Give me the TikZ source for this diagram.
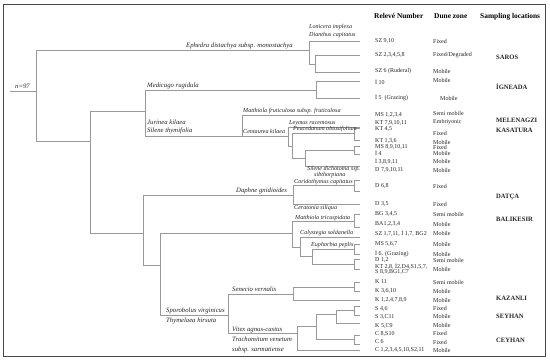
\documentclass[tikz,border=0pt]{standalone}
\usepackage{fontspec}
\setmainfont{Liberation Serif}
\newcommand{\leafpair}[2]{\draw[tr] (360,#1) -- (354,#1) -- (354,#2) -- (360,#2);}
\begin{document}
\begin{tikzpicture}[x=1pt,y=-1pt,
  tr/.style={draw=black!40,line width=0.6pt},
  sp/.style={font=\fontsize{6.7}{7}\selectfont\itshape,inner sep=0pt,anchor=base west,text=black!85},
  sps/.style={sp,font=\fontsize{6.1}{6.5}\selectfont\itshape},
  rl/.style={font=\fontsize{6}{6.5}\selectfont,inner sep=0pt,anchor=west,text=black!85},
  hd/.style={font=\fontsize{7.4}{8}\selectfont\bfseries,inner sep=0pt,anchor=west},
  loc/.style={font=\fontsize{6.6}{7}\selectfont\bfseries,inner sep=0pt,anchor=west,text=black!85}]
\useasboundingbox (0,0) rectangle (550,361);
\fill[white] (0,0) rectangle (550,361);
\draw[line width=1.7pt,black!72] (3.5,4.5) rectangle (545.5,356.5);

% ---- tree ----
\draw[tr] (10,91) -- (36,91);
\draw[tr] (36,141) -- (36,50) -- (309,50);
\draw[tr] (360,41) -- (309,41) -- (309,64) -- (315,64);
\draw[tr] (360,55) -- (315,55) -- (315,72) -- (360,72);
\draw[tr] (36,141) -- (90,141);
\draw[tr] (145,111) -- (90,111) -- (90,233) -- (143,233);
\draw[tr] (316,90) -- (145,90) -- (145,136) -- (288,136);
\draw[tr] (360,81) -- (316,81) -- (316,98) -- (360,98);
\draw[tr] (360,115) -- (242,115) -- (242,136);
\draw[tr] (360,127) -- (288,127) -- (288,146) -- (292,146);
\draw[tr] (354,133) -- (292,133) -- (292,158) -- (305,158);
\leafpair{128}{140}
\draw[tr] (354,150) -- (305,150) -- (305,166) -- (360,166);
\leafpair{146}{154}
\draw[tr] (293,195) -- (143,195) -- (143,265) -- (160,265);
\draw[tr] (354,185) -- (293,185) -- (293,204) -- (360,204);
\leafpair{180}{191}
\draw[tr] (292,233) -- (160,233) -- (160,315) -- (228,315);
\draw[tr] (354,221) -- (292,221) -- (292,247) -- (300,247);
\leafpair{214}{227}
\draw[tr] (360,237) -- (300,237) -- (300,256) -- (312,256);
\draw[tr] (354,249) -- (312,249) -- (312,264) -- (354,264);
\leafpair{244}{254}
\leafpair{259}{269}
\draw[tr] (293,294) -- (228,294) -- (228,333) -- (297,333);
\draw[tr] (354,287) -- (293,287) -- (293,300) -- (360,300);
\leafpair{282}{291}
\draw[tr] (316,326) -- (297,326) -- (297,350) -- (360,350);
\draw[tr] (336,314) -- (316,314) -- (316,339) -- (354,339);
\draw[tr] (354,310) -- (336,310) -- (336,323) -- (360,323);
\leafpair{306}{315}
\leafpair{335}{344}

% ---- species labels ----
\node[sp] (n97) at (15,88.5) {n=97};
\node[sp,anchor=base east] (eph) at (293,47.5) {Ephedra distachya subsp. monostachya};
\node[sps] (lon) at (309,29) {Lonicera implexa};
\node[sps] (dia) at (309,37) {Dianthus capitatus};
\node[sp] (med) at (147,88) {Medicago rugidula};
\node[sp] (jur) at (147,124.5) {Jurinea kilaea};
\node[sp] (sth) at (147,132.5) {Silene thymifolia};
\node[sps] (mfr) at (243,113) {Matthiola fruticulosa subsp. fruticulosa};
\node[sps] (cen) at (243,134) {Centaurea kilaea};
\node[sps] (ley) at (289,124.5) {Leymus racemosus};
\node[sps] (peu) at (293,131) {Peucedanum obtusifolium};
\node[sps] (sdi) at (307,171) {Silene dichotoma ssp.};
\node[sps] (sib) at (314,176.5) {sibthorpiana};
\node[sp] (dap) at (236,193) {Daphne gnidioides};
\node[sps] (cor) at (294,183.5) {Coridothymus capitatus};
\node[sps] (cer) at (294,210) {Ceratonia siliqua};
\node[sps] (mtr) at (295,219) {Matthiola tricuspidata};
\node[sps] (cal) at (300,235) {Calystegia soldanella};
\node[sps] (eup) at (311,247) {Euphorbia peplis};
\node[sp] (sen) at (232,291.5) {Senecio vernalis};
\node[sp] (spo) at (166,312.5) {Sporobolus virginicus};
\node[sp] (thy) at (166,322.5) {Thymelaea hirsuta};
\node[sp] (vit) at (232,331) {Vitex agnus-castus};
\node[sp] (tra) at (232,341) {Trachomitum venetum};
\node[sp] (sar) at (232,351) {subsp. sarmatiense};

% ---- headers ----
\node[hd] (h1) at (374,16) {Relevé Number};
\node[hd] (h2) at (434,16.5) {Dune zone};
\node[hd] (h3) at (480,16.5) {Sampling locations};

% ---- relevé numbers ----
\node[rl] (r1) at (375,41) {SZ 9,10};
\node[rl] (r2) at (375,55) {SZ 2,3,4,5,8};
\node[rl] (r3) at (375,71) {SZ 6 (Ruderal)};
\node[rl] (r4) at (375,82) {İ 10};
\node[rl] (r5) at (375,98) {İ 5\ \ (Grazing)};
\node[rl] (r6) at (375,115) {MS 1,2,3,4};
\node[rl] (r7) at (375,123) {KT 7,9,10,11};
\node[rl] (r8) at (375,128.5) {KT 4,5};
\node[rl] (r9) at (375,141) {KT 1,3,6};
\node[rl] (r10) at (375,146.5) {MS 8,9,10,11};
\node[rl] (r11) at (375,153) {İ 4};
\node[rl] (r12) at (375,161) {İ 3,8,9,11};
\node[rl] (r13) at (375,170) {D 7,9,10,11};
\node[rl] (r14) at (375,186) {D 6,8};
\node[rl] (r15) at (375,204) {D 3,5};
\node[rl] (r16) at (375,214) {BG 3,4,5};
\node[rl] (r17) at (375,224) {BA1,2,3,4};
\node[rl] (r18) at (375,233) {SZ 1,7,11, İ 1,7, BG2};
\node[rl] (r19) at (375,244) {MS 5,6,7};
\node[rl] (r20) at (375,254) {İ 6. (Grazing)};
\node[rl] (r21) at (375,260) {D 1,2};
\node[rl] (r22) at (375,266) {KT 2,8, İ2,D4,S1,5,7,};
\node[rl] (r23) at (375,271.5) {S 8,9,BG1,C7};
\node[rl] (r24) at (375,282) {K 11};
\node[rl] (r25) at (375,291) {K 3,6,10};
\node[rl] (r26) at (375,300) {K 1,2,4,7,8,9};
\node[rl] (r27) at (375,309) {S 4,6};
\node[rl] (r28) at (375,317) {S 3,C11};
\node[rl] (r29) at (375,326) {K 5,C9};
\node[rl] (r30) at (375,334) {C 8,S10};
\node[rl] (r31) at (375,342) {C 6};
\node[rl] (r32) at (375,350) {C 1,2,3,4,5,10,S2,11};

% ---- dune zones ----
\node[rl] (d1) at (433,41) {Fixed};
\node[rl] (d2) at (433,55) {Fixed/Degraded};
\node[rl] (d3) at (433,71) {Mobile};
\node[rl] (d4) at (433,80) {Mobile};
\node[rl] (d5) at (440,98) {Mobile};
\node[rl] (d6) at (433,113) {Semi mobile};
\node[rl] (d7) at (433,122) {Embriyonic};
\node[rl] (d8) at (433,133) {Fixed};
\node[rl] (d9) at (433,142) {Mobile};
\node[rl] (d10) at (433,147.5) {Fixed};
\node[rl] (d11) at (433,153.5) {Mobile};
\node[rl] (d12) at (433,161.5) {Mobile};
\node[rl] (d13) at (433,170) {Mobile};
\node[rl] (d14) at (433,186) {Fixed};
\node[rl] (d15) at (433,204) {Fixed};
\node[rl] (d16) at (433,214) {Semi mobile};
\node[rl] (d17) at (433,224) {Mobile};
\node[rl] (d18) at (433,233) {Mobile};
\node[rl] (d19) at (433,244) {Mobile};
\node[rl] (d20) at (433,254) {Mobile};
\node[rl] (d21) at (433,260) {Semi mobile};
\node[rl] (d22) at (433,269) {Mobile};
\node[rl] (d23) at (433,282) {Semi mobile};
\node[rl] (d24) at (433,291) {Mobile};
\node[rl] (d25) at (433,300) {Mobile};
\node[rl] (d26) at (433,308) {Fixed};
\node[rl] (d27) at (433,316) {Mobile};
\node[rl] (d28) at (433,325) {Mobile};
\node[rl] (d29) at (433,333) {Fixed};
\node[rl] (d30) at (433,342) {Fixed};
\node[rl] (d31) at (433,350) {Mobile};

% ---- locations ----
\node[loc] (l1) at (496,57.5) {SAROS};
\node[loc] (l2) at (496,87) {İGNEADA};
\node[loc] (l3) at (496,120.5) {MELENAGZI};
\node[loc] (l4) at (496,130) {KASATURA};
\node[loc] (l5) at (496,197) {DATÇA};
\node[loc] (l6) at (496,219) {BALIKESIR};
\node[loc] (l7) at (496,298) {KAZANLI};
\node[loc] (l8) at (496,316) {SEYHAN};
\node[loc] (l9) at (496,340.5) {CEYHAN};
\end{tikzpicture}
\end{document}
